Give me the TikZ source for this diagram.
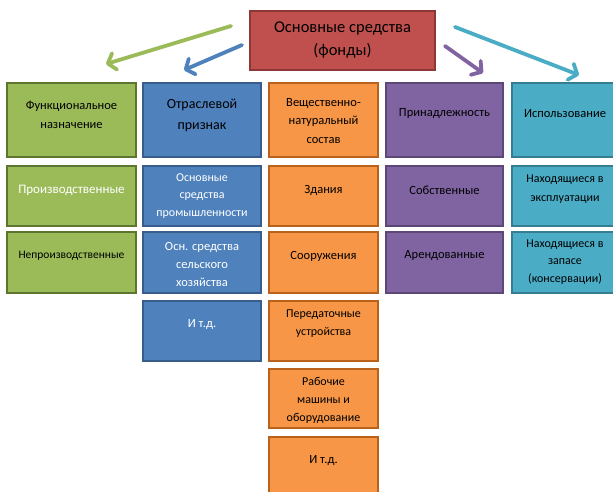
\documentclass[tikz,border=0pt]{standalone}
\usepackage{fontspec}
\setmainfont{Carlito}
\usetikzlibrary{arrows.meta}
\definecolor{gF}{HTML}{9BBB59}\definecolor{gD}{HTML}{5E7530}
\definecolor{bF}{HTML}{4F81BD}\definecolor{bD}{HTML}{385D8A}
\definecolor{oF}{HTML}{F79646}\definecolor{oD}{HTML}{B8621B}
\definecolor{pF}{HTML}{8064A2}\definecolor{pD}{HTML}{5C4776}
\definecolor{cF}{HTML}{4BACC6}\definecolor{cD}{HTML}{357D91}
\definecolor{rF}{HTML}{C0504D}\definecolor{rD}{HTML}{8C3836}
\begin{document}
\begin{tikzpicture}[x=1pt,y=-1pt,
  cell/.style={draw, line width=1.6pt, inner sep=0pt},
  colG/.style={cell, fill=gF, draw=gD, minimum width=129pt},
  colB/.style={cell, fill=bF, draw=bD, minimum width=118pt},
  colO/.style={cell, fill=oF, draw=oD, minimum width=109pt},
  colP/.style={cell, fill=pF, draw=pD, minimum width=117pt},
  colC/.style={cell, fill=cF, draw=cD, minimum width=104pt},
  rA/.style={minimum height=74pt},
  rB/.style={minimum height=60pt},
  rC/.style={minimum height=61pt},
  rD/.style={minimum height=60pt},
  rE/.style={minimum height=59pt},
  rF/.style={minimum height=60pt},
  txt/.style={align=center, inner sep=0pt, text=black},
  wtxt/.style={txt, text=white},
  arr/.style={line width=3.8pt, line cap=round, -{Straight Barb[length=7pt,width=17pt,round]}}
]
\useasboundingbox (0,0) rectangle (613,492);

% top box
\node[cell, fill=rF, draw=rD, minimum width=185pt, minimum height=59pt] (top) at (342.5,40.5) {};
\node[txt, font=\fontsize{16.5}{23.5}\selectfont] (ttop) at (342.5,40) {Основные средства\\(фонды)};

% green column
\node[colG, rA] (g1) at (71.5,120) {};
\node[colG, rB] (g2) at (71.5,196) {};
\node[colG, rC] (g3) at (71.5,262.5) {};
\node[txt, font=\fontsize{12.5}{19}\selectfont] (tg1) at (71.5,114.5) {Функциональное\\назначение};
\node[wtxt, font=\fontsize{13}{18}\selectfont] (tg2) at (71.5,190) {Производственные};
\node[txt, font=\fontsize{11.5}{18}\selectfont] (tg3) at (71.5,256) {Непроизводственные};

% blue column
\node[colB, rA] (b1) at (202,120) {};
\node[colB, rB] (b2) at (202,196) {};
\node[colB, rC] (b3) at (202,262.5) {};
\node[colB, rD] (b4) at (202,331) {};
\node[txt, font=\fontsize{14}{21}\selectfont] (tb1) at (202,115.5) {Отраслевой\\признак};
\node[wtxt, font=\fontsize{12}{17.5}\selectfont] (tb2) at (202,196) {Основные\\средства\\промышленности};
\node[wtxt, font=\fontsize{12.5}{18}\selectfont] (tb3) at (202,264) {Осн. средства\\сельского\\хозяйства};
\node[wtxt, font=\fontsize{12.5}{18}\selectfont] (tb4) at (202,325) {И т.д.};

% orange column
\node[colO, rA] (o1) at (323.5,120) {};
\node[colO, rB] (o2) at (323.5,196) {};
\node[colO, rC] (o3) at (323.5,262.5) {};
\node[colO, rD] (o4) at (323.5,331) {};
\node[colO, rE] (o5) at (323.5,398.5) {};
\node[colO, rF] (o6) at (323.5,467) {};
\node[txt, font=\fontsize{12.5}{18.5}\selectfont] (to1) at (323.5,121) {Вещественно-\\натуральный\\состав};
\node[txt, font=\fontsize{12.5}{18}\selectfont] (to2) at (323.5,190) {Здания};
\node[txt, font=\fontsize{12.5}{18}\selectfont] (to3) at (323.5,256) {Сооружения};
\node[txt, font=\fontsize{12}{18}\selectfont] (to4) at (323.5,324) {Передаточные\\устройства};
\node[txt, font=\fontsize{12}{18}\selectfont] (to5) at (323.5,400) {Рабочие\\машины и\\оборудование};
\node[txt, font=\fontsize{12.5}{18}\selectfont] (to6) at (323.5,461) {И т.д.};

% purple column
\node[colP, rA] (p1) at (444.5,120) {};
\node[colP, rB] (p2) at (444.5,196) {};
\node[colP, rC] (p3) at (444.5,262.5) {};
\node[txt, font=\fontsize{12.5}{18}\selectfont] (tp1) at (444.5,114) {Принадлежность};
\node[txt, font=\fontsize{12.5}{18}\selectfont] (tp2) at (444.5,190) {Собственные};
\node[txt, font=\fontsize{12.5}{18}\selectfont] (tp3) at (444.5,256) {Арендованные};

% cyan column
\node[colC, rA] (c1) at (564,120) {};
\node[colC, rB] (c2) at (564,196) {};
\node[colC, rC] (c3) at (564,262.5) {};
\node[txt, font=\fontsize{12.5}{18}\selectfont] (tc1) at (565,114) {Использование};
\node[txt, font=\fontsize{12}{19}\selectfont] (tc2) at (565,189.5) {Находящиеся в\\эксплуатации};
\node[txt, font=\fontsize{12}{17.5}\selectfont] (tc3) at (565,262) {Находящиеся в\\запасе\\(консервации)};

% arrows
\coordinate (gs) at (231,26);  \coordinate (ge) at (106,64);
\coordinate (bs) at (242,45);  \coordinate (be) at (184,70);
\coordinate (ps) at (445,46);  \coordinate (pe) at (483,73);
\coordinate (cs) at (455,27);  \coordinate (ce) at (579,75);
\draw[arr, draw=gF] (gs) -- (ge);
\draw[arr, draw=bF] (bs) -- (be);
\draw[arr, draw=pF] (ps) -- (pe);
\draw[arr, draw=cF] (cs) -- (ce);
\end{tikzpicture}
\end{document}
